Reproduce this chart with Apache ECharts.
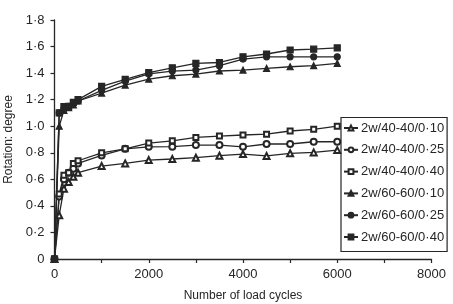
<!DOCTYPE html>
<html><head><meta charset="utf-8">
<script src="https://cdn.jsdelivr.net/npm/echarts@6/dist/echarts.min.js"></script>
<style>html,body{margin:0;padding:0;background:#fff}#c{width:453px;height:304px}</style>
</head><body><div id="c"></div>
<script>
const cycles = [0, 100, 200, 300, 400, 500, 1000, 1500, 2000, 2500, 3000, 3500, 4000, 4500, 5000, 5500, 6000];
const names = ['2w/40-40/0·10', '2w/40-40/0·25', '2w/40-40/0·40', '2w/60-60/0·10', '2w/60-60/0·25', '2w/60-60/0·40'];
const s40_010 = [0, 0.33, 0.53, 0.58, 0.62, 0.65, 0.70, 0.72, 0.745, 0.753, 0.763, 0.778, 0.79, 0.776, 0.796, 0.803, 0.82];
const s40_025 = [0, 0.47, 0.60, 0.65, 0.68, 0.72, 0.78, 0.83, 0.845, 0.846, 0.858, 0.858, 0.845, 0.866, 0.866, 0.883, 0.883];
const s40_040 = [0, 0.49, 0.63, 0.65, 0.72, 0.74, 0.80, 0.83, 0.873, 0.89, 0.916, 0.926, 0.934, 0.94, 0.964, 0.977, 1.00];
const s60_010 = [0, 1.00, 1.12, 1.14, 1.16, 1.19, 1.25, 1.31, 1.355, 1.38, 1.393, 1.416, 1.423, 1.436, 1.448, 1.456, 1.474];
const s60_025 = [0, 1.10, 1.13, 1.15, 1.17, 1.19, 1.27, 1.34, 1.395, 1.415, 1.423, 1.456, 1.506, 1.523, 1.523, 1.523, 1.523];
const s60_040 = [0, 1.10, 1.147, 1.15, 1.18, 1.20, 1.30, 1.353, 1.403, 1.44, 1.474, 1.48, 1.523, 1.544, 1.574, 1.58, 1.59];
const xTicks = [0, 2000, 4000, 6000, 8000];
const yTicks = [0, 0.2, 0.4, 0.6, 0.8, 1.0, 1.2, 1.4, 1.6, 1.8];

const allData = [s40_010, s40_025, s40_040, s60_010, s60_025, s60_040];
const symbols = ['emptyTriangle', 'emptyCircle', 'emptyRect', 'triangle', 'circle', 'rect'];
const sizes = [6, 6, 5, 6, 6, 6];
const ink = '#262626';
const font = 'Liberation Sans, Arial, sans-serif';

const chart = echarts.init(document.getElementById('c'), null, {renderer: 'canvas'});
chart.setOption({
  animation: false,
  backgroundColor: '#fff',
  grid: {left: 54.5, right: 21.5, top: 20, bottom: 45, containLabel: false, outerBoundsMode: 'none'},
  legend: {
    orient: 'vertical', left: 341, top: 117.5,
    padding: [4, 3, 8, 2], itemGap: 8.8, itemWidth: 14, itemHeight: 6,
    borderColor: ink, borderWidth: 1.2,
    textStyle: {color: ink, fontSize: 13, fontFamily: font, padding: [0, 0, 0, -2]},
    data: names
  },
  xAxis: {
    type: 'value', min: 0, max: 8000, interval: 1000,
    name: 'Number of load cycles', nameLocation: 'middle', nameGap: 31,
    nameTextStyle: {color: ink, fontSize: 12, fontFamily: font},
    axisLine: {lineStyle: {color: ink, width: 1.3}},
    axisTick: {show: true, length: 4, lineStyle: {color: ink, width: 1.2}},
    axisLabel: {color: ink, fontSize: 13, fontFamily: font, margin: 9,
      formatter: v => xTicks.indexOf(v) >= 0 ? String(v) : ''},
    splitLine: {show: false}
  },
  yAxis: {
    type: 'value', min: 0, max: 1.8, interval: 0.2,
    name: 'Rotation: degree', nameLocation: 'middle', nameGap: 40,
    nameTextStyle: {color: ink, fontSize: 12, fontFamily: font},
    axisLine: {show: true, lineStyle: {color: ink, width: 1.3}},
    axisTick: {show: true, length: 4, lineStyle: {color: ink, width: 1.2}},
    axisLabel: {color: ink, fontSize: 13, fontFamily: font, margin: 10,
      formatter: v => {
        const t = yTicks.find(y => Math.abs(y - v) < 1e-6);
        if (t === undefined) return '';
        return t === 0 ? '0' : t.toFixed(1).replace('.', '·');
      }},
    splitLine: {show: false}
  },
  series: allData.map((d, i) => ({
    name: names[i], type: 'line',
    data: cycles.map((c, j) => [c, d[j]]),
    symbol: symbols[i], symbolSize: sizes[i],
    showAllSymbol: true,
    lineStyle: {color: ink, width: 1.3},
    itemStyle: {color: ink, borderColor: ink, borderWidth: 1.2},
    emphasis: {disabled: true}
  }))
});
</script></body></html>
